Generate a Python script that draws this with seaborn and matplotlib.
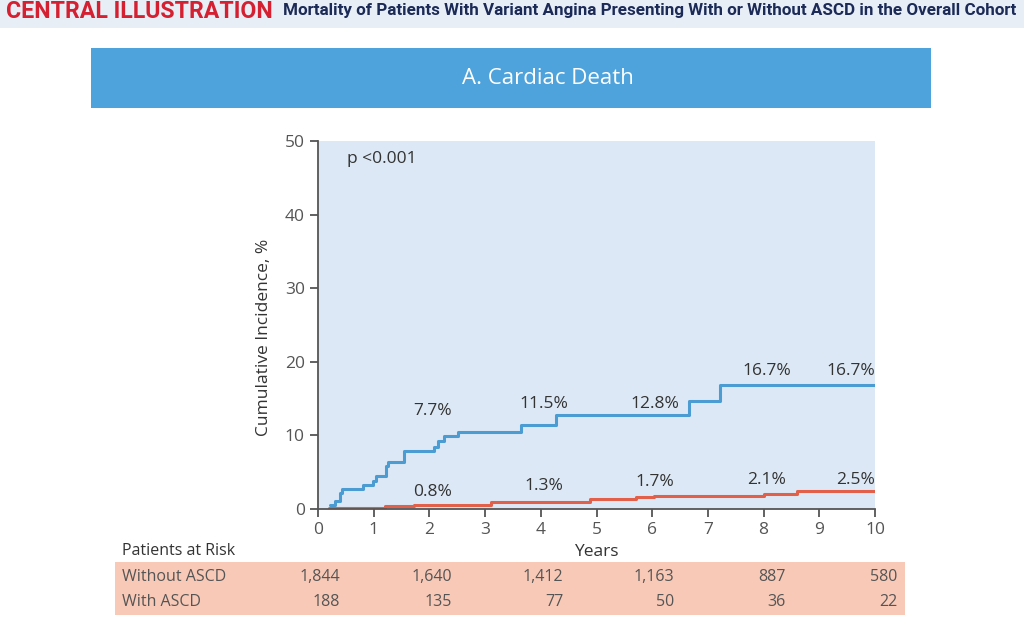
import matplotlib
matplotlib.use('Agg')
import matplotlib.pyplot as plt
import matplotlib.transforms as mtransforms
from matplotlib.patches import Rectangle
import pandas as pd
import seaborn as sns

# step curves (years, cumulative incidence %)
blue_years = [0.21, 0.31, 0.40, 0.43, 0.81, 0.98, 1.04, 1.22, 1.26, 1.55,
              2.09, 2.15, 2.26, 2.52, 3.65, 4.28, 6.66, 7.21, 10.0]
blue_pct = [0.5, 1.1, 2.2, 2.7, 3.2, 3.8, 4.5, 5.8, 6.4, 7.9,
            8.4, 9.3, 9.9, 10.5, 11.4, 12.8, 14.7, 16.9, 16.9]
red_years = [0.20, 1.21, 1.73, 3.10, 4.88, 5.71, 6.03, 8.00, 8.60, 10.0]
red_pct = [0.15, 0.4, 0.6, 0.95, 1.4, 1.6, 1.8, 2.1, 2.45, 2.45]

# annotated percentages
blue_labels = ['7.7%', '11.5%', '12.8%', '16.7%', '16.7%']
red_labels = ['0.8%', '1.3%', '1.7%', '2.1%', '2.5%']
label_years = [2, 4, 6, 8, 10]

# patients at risk
risk_years = [0, 2, 4, 6, 8, 10]
without_ascd = ['1,844', '1,640', '1,412', '1,163', '887', '580']
with_ascd = ['188', '135', '77', '50', '36', '22']

blue = '#4a9cd3'
red = '#e2604a'
dark = '#333333'
grey = '#555555'

df = pd.concat([
    pd.DataFrame({'years': blue_years, 'pct': blue_pct, 'group': 'A'}),
    pd.DataFrame({'years': red_years, 'pct': red_pct, 'group': 'B'}),
])

sns.set_theme(style='ticks')
plt.rcParams['font.family'] = ['Open Sans', 'DejaVu Sans']

fig = plt.figure(figsize=(10.24, 6.25), dpi=100)
fig.patch.set_facecolor('white')
renderer = fig.canvas.get_renderer()


def fit_text(t, width_px):
    # shrink/grow a text until it spans the wanted pixel width
    w = t.get_window_extent(renderer).width
    t.set_fontsize(t.get_fontsize() * width_px / w)


# header strip
fig.add_artist(Rectangle((0, 1 - 28 / 625), 1, 28 / 625, transform=fig.transFigure,
                         facecolor='#e7eef6', edgecolor='none', zorder=0))
t1 = fig.text(6 / 1024, 1 - 11 / 625, 'CENTRAL ILLUSTRATION', color='#d42030',
              fontsize=12, fontweight='bold', ha='left', va='center',
              family=['Roboto', 'DejaVu Sans'])
fit_text(t1, 266)
t2 = fig.text(1016 / 1024, 1 - 11 / 625,
              'Mortality of Patients With Variant Angina Presenting With or Without ASCD in the Overall Cohort',
              color='#1b2a57', fontsize=11, fontweight='bold', ha='right', va='center',
              family=['Roboto', 'DejaVu Sans'])
fit_text(t2, 731)

# blue banner
fig.add_artist(Rectangle((91 / 1024, 1 - 108 / 625), 840 / 1024, 60 / 625,
                         transform=fig.transFigure, facecolor='#4ea3dc',
                         edgecolor='none', zorder=0))
fig.text(548 / 1024, 1 - 79 / 625, 'A. Cardiac Death', color='white',
         fontsize=16, ha='center', va='center')

# risk table band
fig.add_artist(Rectangle((115 / 1024, 1 - 615 / 625), 790 / 1024, 53 / 625,
                         transform=fig.transFigure, facecolor='#f8c9b7',
                         edgecolor='none', zorder=0))

ax = fig.add_axes([318 / 1024, 1 - 509 / 625, 557 / 1024, 368 / 625])
ax.set_facecolor('#dce8f5')
sns.lineplot(data=df, x='years', y='pct', hue='group', palette=[blue, red],
             drawstyle='steps-post', linewidth=2.2, legend=False, ax=ax)

ax.set_xlim(0, 10)
ax.set_ylim(0, 50)
ax.set_xticks(range(0, 11))
ax.set_yticks(range(0, 51, 10))
ax.set_xlabel('Years', fontsize=12.5, color=dark, labelpad=4)
ax.set_ylabel('Cumulative Incidence, %', fontsize=12.5, color=dark)
ax.yaxis.set_label_coords(-0.082, 0.467)
ax.tick_params(colors=grey, labelsize=12.5, length=6, width=1.3)
for side in ['left', 'bottom']:
    ax.spines[side].set_color(grey)
    ax.spines[side].set_linewidth(1.3)
for side in ['top', 'right']:
    ax.spines[side].set_visible(False)

ax.text(0.52, 47.6, 'p <0.001', fontsize=12.5, color=dark, ha='left', va='center')

blue_label_y = [13.3, 14.3, 14.3, 18.7, 18.7]
red_label_y = [2.3, 3.1, 3.7, 4.0, 4.0]
for i, yr in enumerate(label_years):
    ha = 'right' if yr == 10 else 'center'
    xx = 10 if yr == 10 else yr + 0.05
    ax.text(xx, blue_label_y[i], blue_labels[i], fontsize=12.5, color=dark,
            ha=ha, va='center')
    ax.text(xx, red_label_y[i], red_labels[i], fontsize=12.5, color=dark,
            ha=ha, va='center')

# patients at risk table
trans = mtransforms.blended_transform_factory(ax.transData, fig.transFigure)
fig.text(122 / 1024, 1 - 551 / 625, 'Patients at Risk', fontsize=11.5,
         color=dark, ha='left', va='center')
fig.text(122 / 1024, 1 - 577 / 625, 'Without ASCD', fontsize=11.5,
         color=grey, ha='left', va='center')
fig.text(122 / 1024, 1 - 602 / 625, 'With ASCD', fontsize=11.5,
         color=grey, ha='left', va='center')
for i, yr in enumerate(risk_years):
    ax.text(yr + 0.4, 1 - 577 / 625, without_ascd[i], transform=trans,
            fontsize=11.5, color=grey, ha='right', va='center')
    ax.text(yr + 0.4, 1 - 602 / 625, with_ascd[i], transform=trans,
            fontsize=11.5, color=grey, ha='right', va='center')

fig.savefig('out.png', dpi=100)
